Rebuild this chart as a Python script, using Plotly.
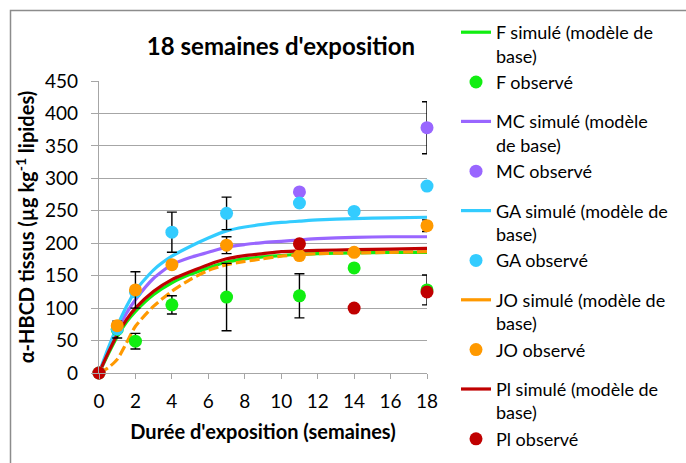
import plotly.graph_objects as go

# ---------------- data ----------------
t_sim = [0, 0.5, 1, 1.5, 2, 3, 4, 5, 6, 7, 8, 9, 10, 11, 12, 14, 16, 18]
sim_F = [0, 29, 56, 78, 95, 121, 139, 152, 162, 171, 176, 179, 181, 183, 184, 185, 186, 186]
sim_MC = [0, 33, 66, 92, 113, 146, 167, 178, 186, 194, 198, 201, 203, 205, 207, 209, 210, 210]
sim_GA = [0, 38, 72, 102, 127, 159, 180, 195, 208, 219, 225, 229, 232, 234, 236, 238, 239, 240]
sim_JO = [0, 8, 21, 46, 72, 103, 126, 144, 158, 167, 172, 176, 180, 182, 184, 185, 186, 187]
sim_Pl = [0, 31, 59, 82, 100, 126, 144, 156, 167, 176, 181, 184, 187, 188, 189, 190, 191, 192]

t_obs_F = [0, 1, 2, 4, 7, 11, 14, 18]
obs_F = [0, 67, 49, 105, 117, 119, 162, 128]
err_F = [None, 13, 12, 14, 52, 34, None, 23]

t_obs_MC = [0, 11, 18]
obs_MC = [0, 279, 378]
err_MC = [None, None, 40]

t_obs_GA = [0, 1, 2, 4, 7, 11, 14, 18]
obs_GA = [0, 68, 125, 217, 246, 262, 249, 288]
err_GA = [None, None, None, 31, 25, None, None, None]

t_obs_JO = [0, 1, 2, 4, 7, 11, 14, 18]
obs_JO = [0, 73, 128, 167, 197, 181, 186, 227]
err_JO = [None, None, 28, None, 13, None, None, 9]

t_obs_Pl = [0, 11, 14, 18]
obs_Pl = [0, 199, 100, 125]

x_ticks = [0, 2, 4, 6, 8, 10, 12, 14, 16, 18]
y_ticks = [0, 50, 100, 150, 200, 250, 300, 350, 400, 450]

title_text = "18 semaines d'exposition"
x_title = "Durée d'exposition (semaines)"
y_title = "α-HBCD tissus (µg kg<sup>-1</sup> lipides)"

# ---------------- styles ----------------
FONT = "Lato"
C_F = "#11EE11"
C_MC = "#9966FF"
C_GA = "#33CCFF"
C_JO = "#FF9900"
C_PL = "#C00000"
LW = 3.2
MS = 13

fig = go.Figure()

def sim_trace(x, y, color, name, group, dash="solid", show=True):
    return go.Scatter(x=x, y=y, mode="lines", name=name, legendgroup=group,
                      showlegend=show, line=dict(color=color, width=LW, dash=dash, shape="spline", smoothing=0.6),
                      hoverinfo="skip", cliponaxis=False)

def obs_trace(x, y, err, color, name, group):
    tr = go.Scatter(x=x, y=y, mode="markers", name=name, legendgroup=group,
                    marker=dict(color=color, size=MS, line=dict(width=0)), cliponaxis=False)
    if err is not None:
        tr.error_y = dict(type="data", array=err, symmetric=True, color="black", thickness=1.4, width=5)
    return tr

# lines first (below markers)
fig.add_trace(sim_trace(t_sim, sim_F, C_F, "F simulé (modèle de<br>base)", "F"))
fig.add_trace(sim_trace(t_sim, sim_MC, C_MC, "MC simulé (modèle<br>de base)", "MC"))
fig.add_trace(sim_trace(t_sim, sim_GA, C_GA, "GA simulé (modèle de<br>base)", "GA"))
fig.add_trace(sim_trace(t_sim, sim_JO, C_JO, "JO simulé (modèle de<br>base)", "JO", dash="10px,4px", show=False))
fig.add_trace(go.Scatter(x=[None], y=[None], mode="lines", name="JO simulé (modèle de<br>base)",
                         legendgroup="JO", line=dict(color=C_JO, width=LW)))
fig.add_trace(sim_trace(t_sim, sim_Pl, C_PL, "Pl simulé (modèle de<br>base)", "Pl"))

# markers
fig.add_trace(obs_trace(t_obs_F, obs_F, err_F, C_F, "F observé", "F"))
fig.add_trace(obs_trace(t_obs_MC, obs_MC, err_MC, C_MC, "MC observé", "MC"))
fig.add_trace(obs_trace(t_obs_GA, obs_GA, err_GA, C_GA, "GA observé", "GA"))
fig.add_trace(obs_trace(t_obs_JO, obs_JO, err_JO, C_JO, "JO observé", "JO"))
fig.add_trace(obs_trace(t_obs_Pl, obs_Pl, None, C_PL, "Pl observé", "Pl"))

L, R, T, B = 99, 259, 81, 90
W, H = 686, 463
pw, ph = W - L - R, H - T - B

def px_x(p):
    return (p - L) / pw

def px_y(p):
    return (H - B - p) / ph

fig.update_layout(
    width=W, height=H, autosize=False,
    margin=dict(l=L, r=R, t=T, b=B, pad=0, autoexpand=False),
    paper_bgcolor="white", plot_bgcolor="white",
    font=dict(family=FONT, size=19, color="black"),
    title=dict(text="<b>" + title_text + "</b>", font=dict(size=24, family=FONT),
               x=281 / W, xref="container", xanchor="center",
               y=1 - 47 / H, yref="container", yanchor="middle"),
    showlegend=True,
    legend=dict(x=456 / W, xref="container", y=1 - 14 / H, yref="container",
                xanchor="left", yanchor="top", maxheight=460,
                traceorder="grouped", tracegroupgap=13, valign="top",
                font=dict(size=18, family=FONT), bgcolor="rgba(0,0,0,0)"),
    shapes=[dict(type="rect", xref="paper", yref="paper",
                 x0=px_x(10.5), x1=px_x(760), y0=px_y(700), y1=px_y(10.5),
                 line=dict(color="#8C8C8C", width=1.5), fillcolor="rgba(0,0,0,0)", layer="above")],
)

fig.update_xaxes(range=[0, 18], tickvals=x_ticks, ticktext=[str(v) for v in x_ticks],
                 automargin=False,
                 showgrid=False, zeroline=False, showline=True, linecolor="#A6A6A6", linewidth=1.3,
                 ticks="outside", ticklen=5, tickcolor="#A6A6A6", tickwidth=1.3,
                 ticklabelstandoff=6, tickfont=dict(size=19),
                 title=dict(text="<b>" + x_title + "</b>", font=dict(size=20), standoff=14))
fig.update_yaxes(range=[0, 450], tickvals=y_ticks, ticktext=[str(v) for v in y_ticks],
                 automargin=False,
                 showgrid=True, gridcolor="#A6A6A6", gridwidth=1.3, zeroline=False,
                 showline=True, linecolor="#A6A6A6", linewidth=1.3,
                 ticks="outside", ticklen=7, tickcolor="#A6A6A6", tickwidth=1.3,
                 ticklabelstandoff=9, tickfont=dict(size=19),
                 title=dict(text="<b>" + y_title + "</b>", font=dict(size=20), standoff=4))

fig.write_html("out.html", config={"displayModeBar": False},
               post_script="document.body.style.margin='0px';document.body.style.padding='0px';")
